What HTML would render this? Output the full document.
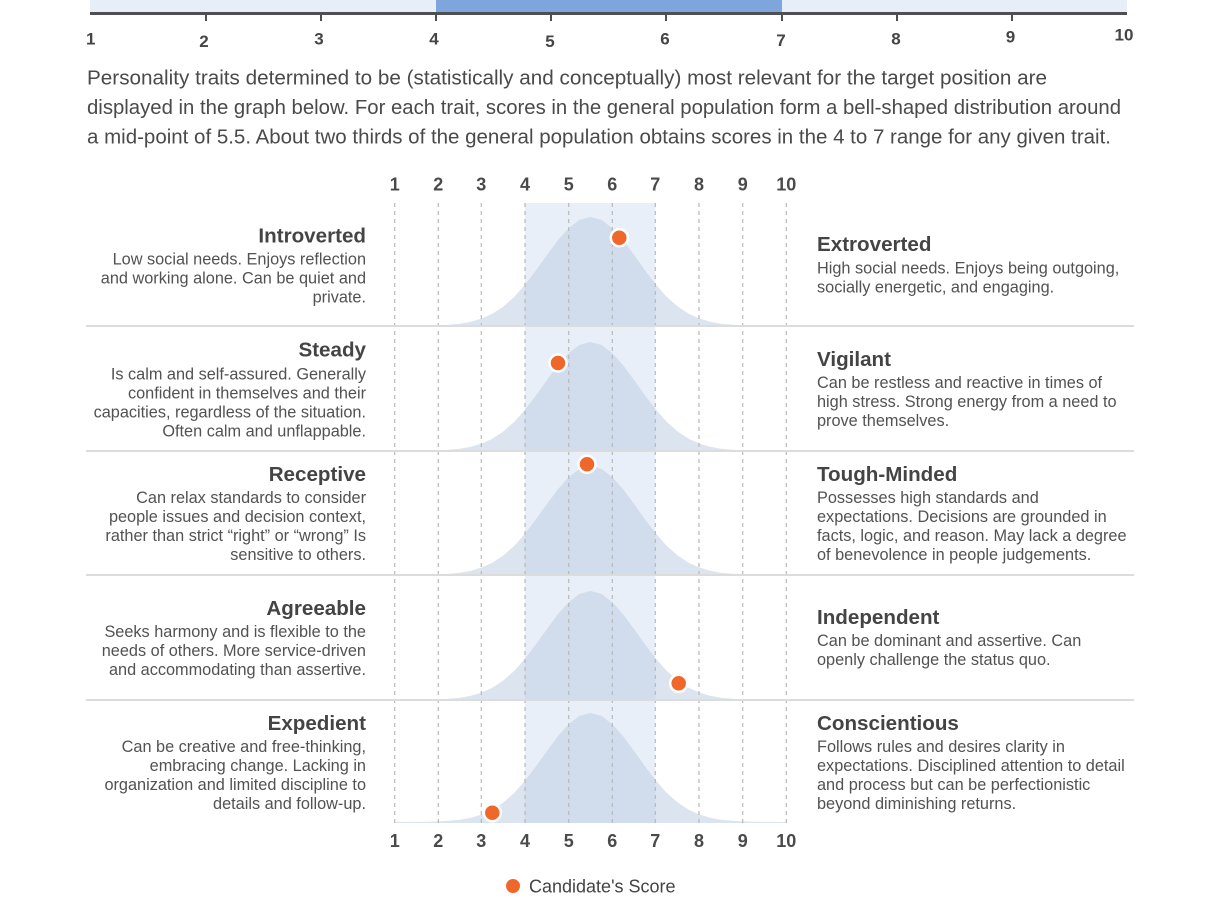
<!DOCTYPE html>
<html>
<head>
<meta charset="utf-8">
<style>
  html,body{margin:0;padding:0;background:#fff;}
  svg{display:block;}
  text{font-family:"Liberation Sans", Arial, sans-serif;}
  .tl{font-size:17px;font-weight:bold;fill:#454545;text-anchor:middle;}
  .ax{font-size:18px;font-weight:bold;fill:#4a4a4a;text-anchor:middle;}
  .para{font-size:20.5px;fill:#4a4a4a;}
  .ttl{font-size:20.6px;font-weight:bold;fill:#444;}
  .dsc{font-size:16.3px;fill:#525252;}
  .L{text-anchor:end;}
  .R{text-anchor:start;}
</style>
</head>
<body>
<svg width="1219" height="912" viewBox="0 0 1219 912" xmlns="http://www.w3.org/2000/svg">
  <defs>
    <path id="bell" d="M394.75,1 L394.75,0 L416.5,-0.1 L427.4,-0.3 L438.25,-0.6 L449.1,-1.2 L460,-2.3 L470.9,-4.3 L481.75,-7.5 L492.6,-12.4 L503.5,-19.6 L514.4,-29.3 L525.25,-41.6 L536.1,-55.8 L547,-71 L557.9,-85.7 L568.75,-97.9 L579.6,-106.1 L590.5,-109 L601.4,-106.1 L612.25,-97.9 L623.1,-85.7 L634,-71 L644.9,-55.8 L655.75,-41.6 L666.6,-29.3 L677.5,-19.6 L688.4,-12.4 L699.25,-7.5 L710.1,-4.3 L721,-2.3 L731.9,-1.2 L742.75,-0.6 L753.6,-0.3 L764.5,-0.1 L786.25,0 L786.25,1 Z"/>
  </defs>

  <!-- Top scale -->
  <rect x="90" y="0" width="1037" height="12" fill="#e8eef8"/>
  <rect x="436" y="0" width="346" height="12" fill="#7ea6dc"/>
  <rect x="90" y="12" width="1037" height="3" fill="#4d4f53"/>
  <g stroke="#4d4f53" stroke-width="2">
    <line x1="206" y1="15" x2="206" y2="21"/>
    <line x1="321" y1="15" x2="321" y2="21"/>
    <line x1="436" y1="15" x2="436" y2="21"/>
    <line x1="551" y1="15" x2="551" y2="21"/>
    <line x1="666" y1="15" x2="666" y2="21"/>
    <line x1="782" y1="15" x2="782" y2="21"/>
    <line x1="897" y1="15" x2="897" y2="21"/>
    <line x1="1012" y1="15" x2="1012" y2="21"/>
  </g>
  <text class="tl" x="90.7" y="44.3">1</text>
  <text class="tl" x="204" y="47">2</text>
  <text class="tl" x="319" y="44.3">3</text>
  <text class="tl" x="434" y="44.3">4</text>
  <text class="tl" x="550" y="47">5</text>
  <text class="tl" x="665" y="44.3">6</text>
  <text class="tl" x="781" y="46">7</text>
  <text class="tl" x="896" y="44.3">8</text>
  <text class="tl" x="1010.5" y="42.7">9</text>
  <text class="tl" x="1124" y="40.3">10</text>

  <!-- Paragraph -->
  <text class="para" x="87" y="84.5" textLength="960" lengthAdjust="spacingAndGlyphs">Personality traits determined to be (statistically and conceptually) most relevant for the target position are</text>
  <text class="para" x="87" y="114" textLength="1034" lengthAdjust="spacingAndGlyphs">displayed in the graph below. For each trait, scores in the general population form a bell-shaped distribution around</text>
  <text class="para" x="87" y="143.5" textLength="1024" lengthAdjust="spacingAndGlyphs">a mid-point of 5.5. About two thirds of the general population obtains scores in the 4 to 7 range for any given trait.</text>

  <!-- Chart axis labels top -->
  <text class="ax" x="394.7" y="190.5">1</text>
  <text class="ax" x="438.3" y="190.5">2</text>
  <text class="ax" x="481.3" y="190.5">3</text>
  <text class="ax" x="525" y="190.5">4</text>
  <text class="ax" x="568.7" y="190.5">5</text>
  <text class="ax" x="612.3" y="190.5">6</text>
  <text class="ax" x="655.3" y="190.5">7</text>
  <text class="ax" x="699" y="190.5">8</text>
  <text class="ax" x="742.7" y="190.5">9</text>
  <text class="ax" x="786.3" y="190.5">10</text>

  <!-- Band -->
  <rect x="525" y="203" width="130.3" height="620" fill="#e9eff8"/>

  <!-- Curves -->
  <g fill="#b9cadf" fill-opacity="0.5">
    <use href="#bell" transform="translate(0,326)"/>
    <use href="#bell" transform="translate(0,451)"/>
    <use href="#bell" transform="translate(0,575)"/>
    <use href="#bell" transform="translate(0,700)"/>
    <use href="#bell" transform="translate(0,822)"/>
  </g>

  <!-- Grid -->
  <g stroke="#b8b8b8" stroke-width="1.2" stroke-dasharray="4,4">
    <line x1="394.7" y1="203" x2="394.7" y2="823"/>
    <line x1="438.3" y1="203" x2="438.3" y2="823"/>
    <line x1="481.3" y1="203" x2="481.3" y2="823"/>
    <line x1="525" y1="203" x2="525" y2="823"/>
    <line x1="568.7" y1="203" x2="568.7" y2="823"/>
    <line x1="612.3" y1="203" x2="612.3" y2="823"/>
    <line x1="655.3" y1="203" x2="655.3" y2="823"/>
    <line x1="699" y1="203" x2="699" y2="823"/>
    <line x1="742.7" y1="203" x2="742.7" y2="823"/>
    <line x1="786.3" y1="203" x2="786.3" y2="823"/>
  </g>

  <!-- Row separators -->
  <g stroke="#dcdcdc" stroke-width="2">
    <line x1="86" y1="326" x2="1134" y2="326"/>
    <line x1="86" y1="451" x2="1134" y2="451"/>
    <line x1="86" y1="575" x2="1134" y2="575"/>
    <line x1="86" y1="700" x2="1134" y2="700"/>
  </g>

  <!-- Dots -->
  <g fill="#f0672b" stroke="#fff" stroke-width="2.5">
    <circle cx="619.3" cy="237.7" r="8.5"/>
    <circle cx="558" cy="363" r="8.5"/>
    <circle cx="587" cy="464.3" r="8.5"/>
    <circle cx="678.7" cy="683.3" r="8.5"/>
    <circle cx="492.3" cy="812.7" r="8.5"/>
  </g>

  <!-- Bottom axis labels -->
  <text class="ax" x="394.7" y="847">1</text>
  <text class="ax" x="438.3" y="847">2</text>
  <text class="ax" x="481.3" y="847">3</text>
  <text class="ax" x="525" y="847">4</text>
  <text class="ax" x="568.7" y="847">5</text>
  <text class="ax" x="612.3" y="847">6</text>
  <text class="ax" x="655.3" y="847">7</text>
  <text class="ax" x="699" y="847">8</text>
  <text class="ax" x="742.7" y="847">9</text>
  <text class="ax" x="786.3" y="847">10</text>

  <!-- Row 1 -->
  <text class="ttl L" x="366" y="242.3">Introverted</text>
  <text class="dsc L" x="366" y="264.3">Low social needs. Enjoys reflection</text>
  <text class="dsc L" x="366" y="283.3">and working alone. Can be quiet and</text>
  <text class="dsc L" x="366" y="302.3">private.</text>
  <text class="ttl R" x="817" y="251">Extroverted</text>
  <text class="dsc R" x="817" y="273.3">High social needs. Enjoys being outgoing,</text>
  <text class="dsc R" x="817" y="292.3">socially energetic, and engaging.</text>

  <!-- Row 2 -->
  <text class="ttl L" x="366" y="356.7">Steady</text>
  <text class="dsc L" x="366" y="379.3">Is calm and self-assured. Generally</text>
  <text class="dsc L" x="366" y="398.3">confident in themselves and their</text>
  <text class="dsc L" x="366" y="417.3">capacities, regardless of the situation.</text>
  <text class="dsc L" x="366" y="436.3">Often calm and unflappable.</text>
  <text class="ttl R" x="817" y="366">Vigilant</text>
  <text class="dsc R" x="817" y="388">Can be restless and reactive in times of</text>
  <text class="dsc R" x="817" y="407">high stress. Strong energy from a need to</text>
  <text class="dsc R" x="817" y="426">prove themselves.</text>

  <!-- Row 3 -->
  <text class="ttl L" x="366" y="481">Receptive</text>
  <text class="dsc L" x="366" y="503">Can relax standards to consider</text>
  <text class="dsc L" x="366" y="522">people issues and decision context,</text>
  <text class="dsc L" x="366" y="541">rather than strict “right” or “wrong” Is</text>
  <text class="dsc L" x="366" y="560">sensitive to others.</text>
  <text class="ttl R" x="817" y="481">Tough-Minded</text>
  <text class="dsc R" x="817" y="503">Possesses high standards and</text>
  <text class="dsc R" x="817" y="522">expectations. Decisions are grounded in</text>
  <text class="dsc R" x="817" y="541">facts, logic, and reason. May lack a degree</text>
  <text class="dsc R" x="817" y="560">of benevolence in people judgements.</text>

  <!-- Row 4 -->
  <text class="ttl L" x="366" y="615">Agreeable</text>
  <text class="dsc L" x="366" y="637">Seeks harmony and is flexible to the</text>
  <text class="dsc L" x="366" y="656">needs of others. More service-driven</text>
  <text class="dsc L" x="366" y="675">and accommodating than assertive.</text>
  <text class="ttl R" x="817" y="624">Independent</text>
  <text class="dsc R" x="817" y="646">Can be dominant and assertive. Can</text>
  <text class="dsc R" x="817" y="665">openly challenge the status quo.</text>

  <!-- Row 5 -->
  <text class="ttl L" x="366" y="730">Expedient</text>
  <text class="dsc L" x="366" y="752">Can be creative and free-thinking,</text>
  <text class="dsc L" x="366" y="771">embracing change. Lacking in</text>
  <text class="dsc L" x="366" y="790">organization and limited discipline to</text>
  <text class="dsc L" x="366" y="809">details and follow-up.</text>
  <text class="ttl R" x="817" y="730">Conscientious</text>
  <text class="dsc R" x="817" y="752">Follows rules and desires clarity in</text>
  <text class="dsc R" x="817" y="771">expectations. Disciplined attention to detail</text>
  <text class="dsc R" x="817" y="790">and process but can be perfectionistic</text>
  <text class="dsc R" x="817" y="809">beyond diminishing returns.</text>

  <!-- Legend -->
  <circle cx="513" cy="886" r="7" fill="#f0672b"/>
  <text x="529" y="892.5" style="font-size:18px;fill:#444;">Candidate's Score</text>
</svg>
</body>
</html>
